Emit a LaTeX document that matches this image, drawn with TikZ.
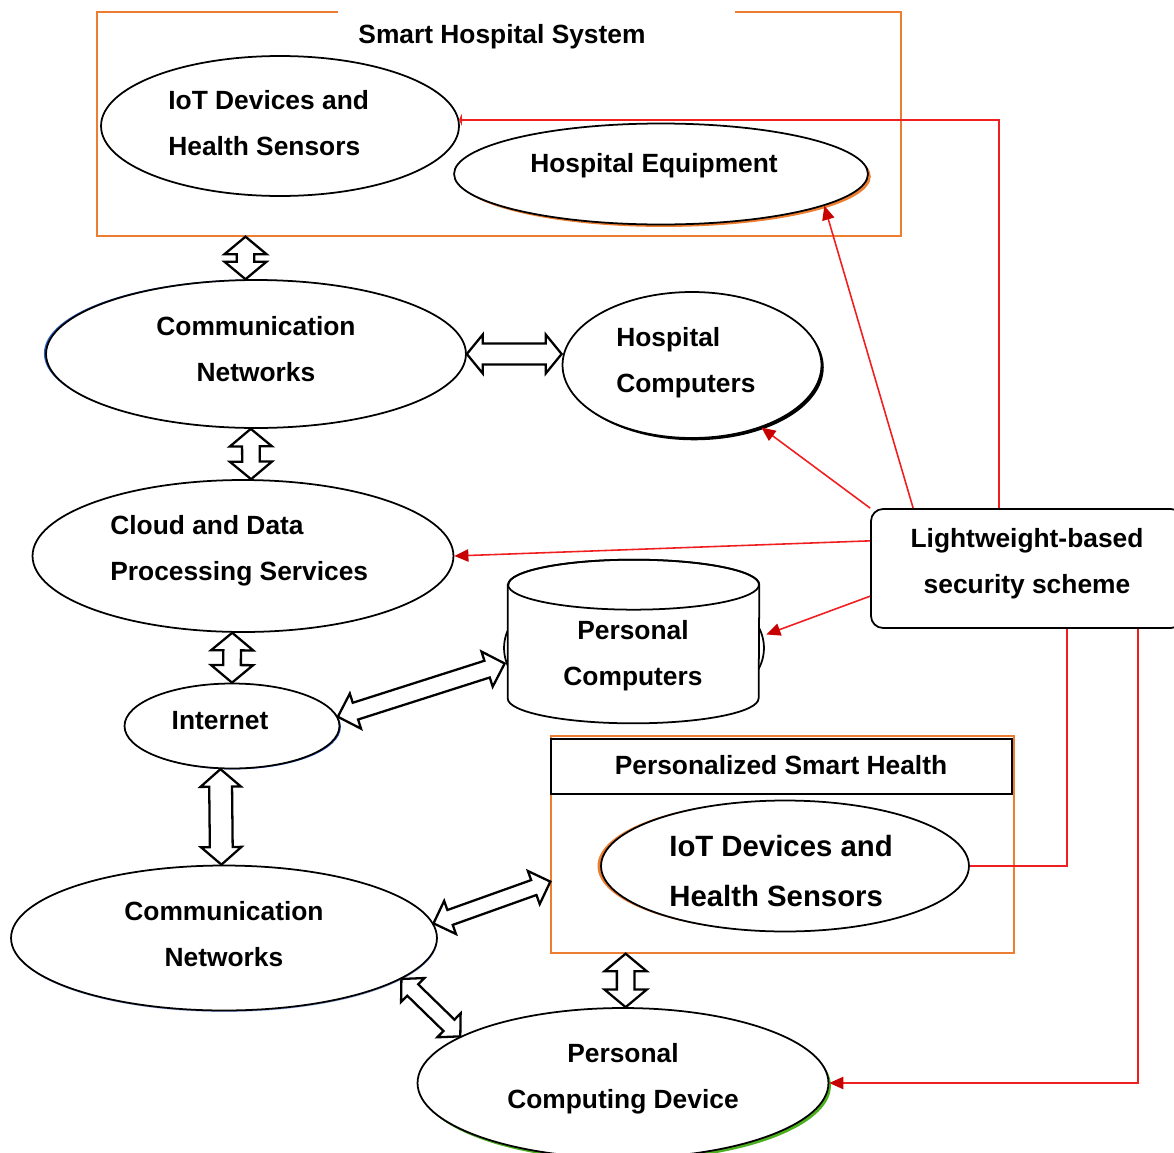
\documentclass[tikz,border=0pt]{standalone}
\usepackage{fontspec}
\setmainfont{Liberation Sans}
\usetikzlibrary{shapes.geometric,arrows.meta,calc,shadows}

\definecolor{frameorange}{HTML}{ED7D31}
\definecolor{linkred}{HTML}{F01E1E}
\definecolor{tipred}{HTML}{C80000}
\definecolor{shadeblue}{HTML}{2A5BC8}
\definecolor{shadegreen}{HTML}{4CB01E}

% hollow two-headed block arrow from #1 to #2
% #3 = half head width, #4 = half shaft width, #5 = head length
\newcommand\blockarrow[5]{%
  \draw[barrow] (#1)
    -- ($(#1)!#5!(#2)!#3!90:(#2)$) -- ($(#1)!#5!(#2)!#4!90:(#2)$)
    -- ($(#2)!#5!(#1)!#4!-90:(#1)$) -- ($(#2)!#5!(#1)!#3!-90:(#1)$)
    -- (#2)
    -- ($(#2)!#5!(#1)!#3!90:(#1)$) -- ($(#2)!#5!(#1)!#4!90:(#1)$)
    -- ($(#1)!#5!(#2)!#4!-90:(#2)$) -- ($(#1)!#5!(#2)!#3!-90:(#2)$)
    -- cycle;}

\begin{document}
\begin{tikzpicture}[x=0.02cm,y=-0.02cm,
  ell/.style={ellipse, draw=black, line width=1pt, fill=white, inner sep=0pt},
  frame/.style={draw=frameorange, line width=0.8pt, inner sep=0pt},
  lbl/.style={font=\bfseries\fontsize{15}{26}\selectfont, inner sep=0pt, align=center},
  biglbl/.style={font=\bfseries\fontsize{16.7}{29}\selectfont, inner sep=0pt, align=left},
  link/.style={draw=linkred, line width=0.9pt},
  redtip/.style={-{Triangle[length=8pt,width=7pt,color=tipred]}},
  barrow/.style={draw=black, fill=white, line width=1.3pt, line join=miter},
]
\useasboundingbox (0,0) rectangle (1174,1153);

% ---------- Smart Hospital System ----------
\node[frame, minimum width=16.08cm, minimum height=4.48cm] (shs) at (499,124) {};
\fill[white] (338,8) rectangle (735,16);
\node[lbl, anchor=base] (shstitle) at (502,43.5) {Smart Hospital System};

\node[ell, minimum width=7.16cm, minimum height=2.8cm] (iot1) at (280,126) {};
\node[lbl, align=left, anchor=west] (iot1t) at (168,123) {IoT Devices and\\Health Sensors};

\node[ell, minimum width=8.28cm, minimum height=2.02cm,
      general shadow={fill=frameorange, shadow xshift=1.6pt, shadow yshift=-1.4pt}] (he) at (661,174) {};
\node[lbl, anchor=base] (het) at (654,172.5) {Hospital Equipment};

% ---------- left column ----------
\node[ell, minimum width=8.4cm, minimum height=2.96cm,
      general shadow={fill=shadeblue, shadow xshift=-1.2pt, shadow yshift=0.3pt}] (comm1) at (256,354) {};
\node[lbl] (comm1t) at (256,349) {Communication\\Networks};

\node[ell, minimum width=5.18cm, minimum height=2.92cm,
      general shadow={fill=black, shadow xshift=1.3pt, shadow yshift=-1.3pt}] (hc) at (692,365) {};
\node[lbl, align=left, anchor=west] (hct) at (616,363) {Hospital\\Computers};

\node[ell, minimum width=8.42cm, minimum height=3.04cm] (cloud) at (243,556) {};
\node[lbl, align=left, anchor=west] (cloudt) at (110,551) {Cloud and Data\\Processing Services};

% Personal Computers: cylinder
\node[ell, minimum width=5.2cm, minimum height=2.96cm] (pcside) at (634,648) {};
\node[inner sep=0pt, minimum width=5.02cm, minimum height=3.26cm] (pc) at (633.5,641.5) {};
\draw[fill=white, line width=1pt]
  ($(pc.north west)+(0,25)$) -- ($(pc.south west)+(0,-25)$)
  arc[start angle=180, end angle=360, x radius=2.51cm, y radius=0.5cm]
  -- ($(pc.north east)+(0,25)$)
  arc[start angle=0, end angle=180, x radius=2.51cm, y radius=0.5cm] -- cycle;
\draw[line width=1pt] ($(pc.north)+(0,25)$) ellipse[x radius=2.51cm, y radius=0.5cm];
\node[lbl] (pct) at (633,656) {Personal\\Computers};

\node[ell, minimum width=4.3cm, minimum height=1.7cm,
      general shadow={fill=shadeblue, shadow xshift=0.8pt, shadow yshift=-0.5pt}] (inet) at (232,726) {};
\node[lbl, anchor=base] (inett) at (220,729.5) {Internet};

\node[ell, minimum width=8.52cm, minimum height=2.9cm,
      general shadow={fill=shadeblue!50, shadow xshift=0.3pt, shadow yshift=-0.8pt}] (comm2) at (224,938) {};
\node[lbl] (comm2t) at (224,934) {Communication\\Networks};

% ---------- Personalized Smart Health ----------
\node[frame, minimum width=9.26cm, minimum height=4.34cm] (psh) at (782.5,844.5) {};
\node[draw=black, line width=1pt, minimum width=9.22cm, minimum height=1.1cm, inner sep=0pt] (pshtitle) at (781.5,766.5) {};
\node[lbl, anchor=base] (pshtt) at (781,774.5) {Personalized Smart Health};

\node[ell, minimum width=7.36cm, minimum height=2.62cm,
      general shadow={fill=frameorange, shadow xshift=-2pt, shadow yshift=0pt}] (iot2) at (785,866) {};
\node[biglbl, anchor=west] (iot2t) at (669,871) {IoT Devices and\\Health Sensors};

\node[ell, minimum width=8.22cm, minimum height=3.0cm,
      general shadow={fill=shadegreen, shadow xshift=1.4pt, shadow yshift=-1.6pt}] (pcd) at (623,1083) {};
\node[lbl] (pcdt) at (623,1079) {Personal\\Computing Device};

% ---------- security scheme ----------
\node[draw=black, line width=1pt, rounded corners=0.24cm, fill=white,
      minimum width=6.24cm, minimum height=2.38cm, inner sep=0pt] (lw) at (1027,568.5) {};
\node[lbl] (lwt) at (1027,564) {Lightweight-based\\security scheme};

% ---------- red links ----------
\coordinate (lwn1) at ($(lw.north west)+(129,0)$);
\coordinate (lwn2) at ($(lw.north west)+(43,0)$);
\coordinate (lws1) at ($(lw.south west)+(197,0)$);
\coordinate (lws2) at ($(lw.south west)+(268,0)$);

\draw[link, -{Triangle[length=1.6pt,width=7pt,color=linkred]}] (lwn1) |- (iot1.2);
\draw[link, redtip] (lwn2) -- (he.-11);
\draw[link, redtip] (lw.north west) -- (hc.-42);
\draw[link, redtip] (lw.170) -- (cloud.east);
\draw[link, redtip] (lw.190) -- ($(pc.east)+(7,-7)$);
\draw[link] (iot2.east) -| (lws1);
\draw[link, redtip] (lws2) |- (pcd.east);

% ---------- block arrows ----------
\coordinate (a1a) at (comm1.98 |- shs.south);
\coordinate (a1b) at (comm1.98);
\blockarrow{a1a}{a1b}{12pt}{5pt}{10pt}

\coordinate (a2a) at (comm1.-94);
\coordinate (a2b) at (cloud.84);
\blockarrow{a2a}{a2b}{12pt}{5pt}{10pt}

\coordinate (a3a) at (comm1.east);
\coordinate (a3b) at (hc.west |- comm1.east);
\blockarrow{a3a}{a3b}{11pt}{6pt}{9pt}

\coordinate (a4a) at (cloud.-98);
\coordinate (a4b) at (inet.north);
\blockarrow{a4a}{a4b}{12pt}{5pt}{10pt}

\coordinate (a5a) at (inet.5);
\coordinate (a5b) at ($(pc.west)+(-3,22)$);
\blockarrow{a5a}{a5b}{10.5pt}{5pt}{10.5pt}

\coordinate (a6a) at (inet.-105);
\coordinate (a6b) at (comm2.92);
\blockarrow{a6a}{a6b}{11.5pt}{6.5pt}{10pt}

\coordinate (a7a) at (comm2.4);
\coordinate (a7b) at ($(psh.south west)!0.33!(psh.north west)$);
\blockarrow{a7a}{a7b}{10pt}{4.5pt}{10pt}

\coordinate (a8a) at (comm2.-13);
\coordinate (a8b) at (pcd.164);
\blockarrow{a8a}{a8b}{9.5pt}{4.5pt}{9pt}

\coordinate (a9a) at (pcd.88 |- psh.south);
\coordinate (a9b) at (pcd.88);
\blockarrow{a9a}{a9b}{12pt}{5pt}{10pt}
\end{tikzpicture}
\end{document}
